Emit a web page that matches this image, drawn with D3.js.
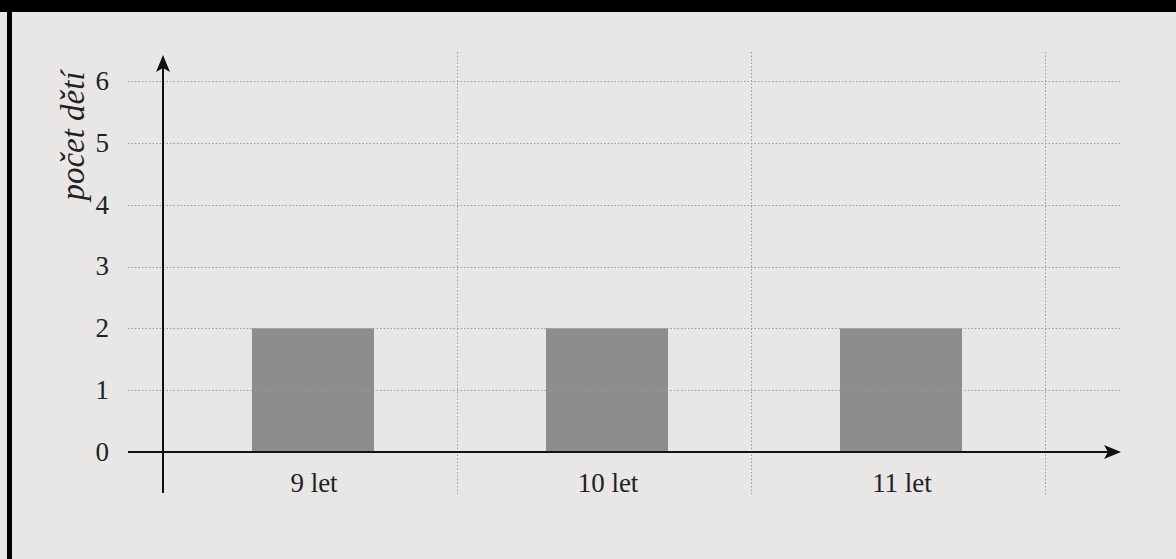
<!DOCTYPE html>
<html>
<head>
<meta charset="utf-8">
<script src="https://cdn.jsdelivr.net/npm/d3@7"></script>
<style>
  html, body { margin: 0; padding: 0; background: #e8e7e5; }
  svg { display: block; }
</style>
</head>
<body>
<svg id="chart" width="1176" height="559"></svg>
<script>
const categories = ["9 let", "10 let", "11 let"];
const values = [2, 2, 2];
const yTicks = [0, 1, 2, 3, 4, 5, 6];
const yTitle = "počet dětí";

const svg = d3.select("#chart");
const W = 1176, H = 559;

// background and frame
svg.append("rect").attr("x", 0).attr("y", 0).attr("width", W).attr("height", H).attr("fill", "#e8e7e5");
svg.append("rect").attr("x", 0).attr("y", 0).attr("width", W).attr("height", 12).attr("fill", "#000");
svg.append("rect").attr("x", 7).attr("y", 0).attr("width", 5).attr("height", H).attr("fill", "#000");

const x0 = 163, x1 = 1045;
const x = d3.scaleBand().domain(categories).range([x0, x1]).paddingInner(0.585).paddingOuter(0.2925);
const xb = d3.scaleLinear().domain([0, categories.length]).range([x0, x1]);
const y = d3.scaleLinear().domain([0, 6]).range([452, 81]);

const gridColor = "#9a9a9a";
const font = "'Liberation Serif', 'DejaVu Serif', serif";

// bars
svg.append("g").selectAll("rect").data(values).join("rect")
  .attr("x", (d, i) => x(categories[i]) + 3)
  .attr("y", d => y(d))
  .attr("width", x.bandwidth())
  .attr("height", d => y(0) - y(d))
  .attr("fill", "#8c8d8c");

// horizontal grid
svg.append("g").selectAll("line").data(yTicks.filter(t => t > 0)).join("line")
  .attr("x1", 128).attr("x2", 1120)
  .attr("y1", d => Math.round(y(d)) + 0.5).attr("y2", d => Math.round(y(d)) + 0.5)
  .attr("stroke", gridColor).attr("stroke-width", 1).attr("stroke-dasharray", "1.5,2");

// vertical grid (band boundaries)
svg.append("g").selectAll("line").data(d3.range(1, categories.length + 1)).join("line")
  .attr("x1", d => Math.round(xb(d)) + 0.5).attr("x2", d => Math.round(xb(d)) + 0.5)
  .attr("y1", 52).attr("y2", 494)
  .attr("stroke", gridColor).attr("stroke-width", 1).attr("stroke-dasharray", "1.5,2");

function arrowHead(xTip, yTip, dir) {
  const L = 17, Wd = 7, notch = 4;
  let p;
  if (dir === "up") {
    p = [[xTip, yTip], [xTip + Wd, yTip + L], [xTip, yTip + L - notch], [xTip - Wd, yTip + L]];
  } else {
    p = [[xTip, yTip], [xTip - L, yTip - Wd], [xTip - L + notch, yTip], [xTip - L, yTip + Wd]];
  }
  svg.append("path").attr("d", d3.line()(p) + "Z").attr("fill", "#111");
}

svg.append("line").attr("x1", x0).attr("x2", x0).attr("y1", 493).attr("y2", 62)
  .attr("stroke", "#111").attr("stroke-width", 2);
arrowHead(x0, 55, "up");
svg.append("line").attr("x1", 128).attr("x2", 1112).attr("y1", y(0)).attr("y2", y(0))
  .attr("stroke", "#111").attr("stroke-width", 2);
arrowHead(1121, y(0), "right");

// y tick labels
svg.append("g").selectAll("text").data(yTicks).join("text")
  .attr("x", 109).attr("y", d => y(d))
  .attr("dy", "0.33em")
  .attr("text-anchor", "end")
  .attr("font-family", font).attr("font-size", 27).attr("fill", "#222")
  .text(d => d);

// x labels
svg.append("g").selectAll("text").data(categories).join("text")
  .attr("x", d => x(d) + x.bandwidth() / 2 + 4)
  .attr("y", 492)
  .attr("text-anchor", "middle")
  .attr("font-family", font).attr("font-size", 27).attr("fill", "#222")
  .text(d => d);

// y title
svg.append("text")
  .attr("transform", "translate(84,136) rotate(-90)")
  .attr("text-anchor", "middle")
  .attr("font-family", font).attr("font-style", "italic").attr("font-size", 33).attr("fill", "#222")
  .text(yTitle);
</script>
</body>
</html>
